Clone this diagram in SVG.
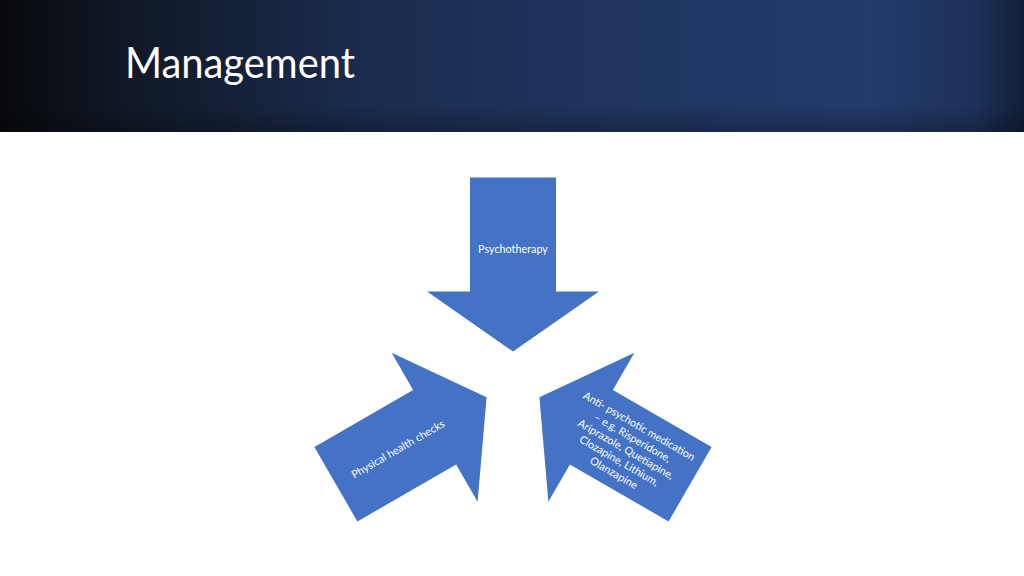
<svg xmlns="http://www.w3.org/2000/svg" width="1024" height="576" viewBox="0 0 1024 576">
  <defs>
    <linearGradient id="hdr" x1="0" y1="0" x2="1" y2="0">
      <stop offset="0" stop-color="#08090b"/>
      <stop offset="0.12" stop-color="#101826"/>
      <stop offset="0.35" stop-color="#1a2b4d"/>
      <stop offset="0.6" stop-color="#1f3560"/>
      <stop offset="0.85" stop-color="#223b69"/>
      <stop offset="0.95" stop-color="#1d325b"/>
      <stop offset="1" stop-color="#121e36"/>
    </linearGradient>
    <linearGradient id="hdrv" x1="0" y1="0" x2="0" y2="1">
      <stop offset="0" stop-color="#000" stop-opacity="0"/>
      <stop offset="0.8" stop-color="#000" stop-opacity="0"/>
      <stop offset="1" stop-color="#000" stop-opacity="0.25"/>
    </linearGradient>
    <polygon id="arrow" points="-43,-204.5 43,-204.5 43,-90.5 86,-90.5 0,-30.5 -86,-90.5 -43,-90.5"/>
  </defs>
  <style>
    .shape { fill: #4472c4; }
    .lbl { font-family: Lato, "Liberation Sans", sans-serif; font-size: 10.8px; fill: #ffffff; text-anchor: middle; }
    .title { font-family: Lato, "Liberation Sans", sans-serif; font-size: 42px; fill: #ffffff; font-weight: 400; }
  </style>
  <rect width="1024" height="576" fill="#ffffff"/>
  <g id="header">
    <rect x="0" y="0" width="1024" height="132" fill="url(#hdr)"/>
    <rect x="0" y="0" width="1024" height="132" fill="url(#hdrv)"/>
    <text class="title" x="125" y="78" textLength="230" lengthAdjust="spacingAndGlyphs">Management</text>
  </g>
  <g id="connectors"></g>
  <g id="node-psychotherapy" transform="translate(513,382)">
    <use href="#arrow" class="shape"/>
    <text class="lbl" x="0" y="-129.5">Psychotherapy</text>
  </g>
  <g id="node-physical" transform="translate(513,382) rotate(-120)">
    <use href="#arrow" class="shape"/>
  </g>
  <text class="lbl" transform="translate(398,449) rotate(-30)" x="0" y="3.8" font-size="11">Physical health checks</text>
  <g id="node-antipsychotic" transform="translate(513,382) rotate(120)">
    <use href="#arrow" class="shape"/>
  </g>
  <text class="lbl" transform="translate(627,450) rotate(30)" font-size="11.6">
    <tspan x="0" y="-23">Anti- psychotic medication</tspan>
    <tspan x="0" y="-9.7">– e.g. Risperidone,</tspan>
    <tspan x="0" y="3.6">Ariprazole, Quetiapine,</tspan>
    <tspan x="0" y="16.9">Clozapine, Lithium,</tspan>
    <tspan x="0" y="30.2">Olanzapine</tspan>
  </text>
</svg>
